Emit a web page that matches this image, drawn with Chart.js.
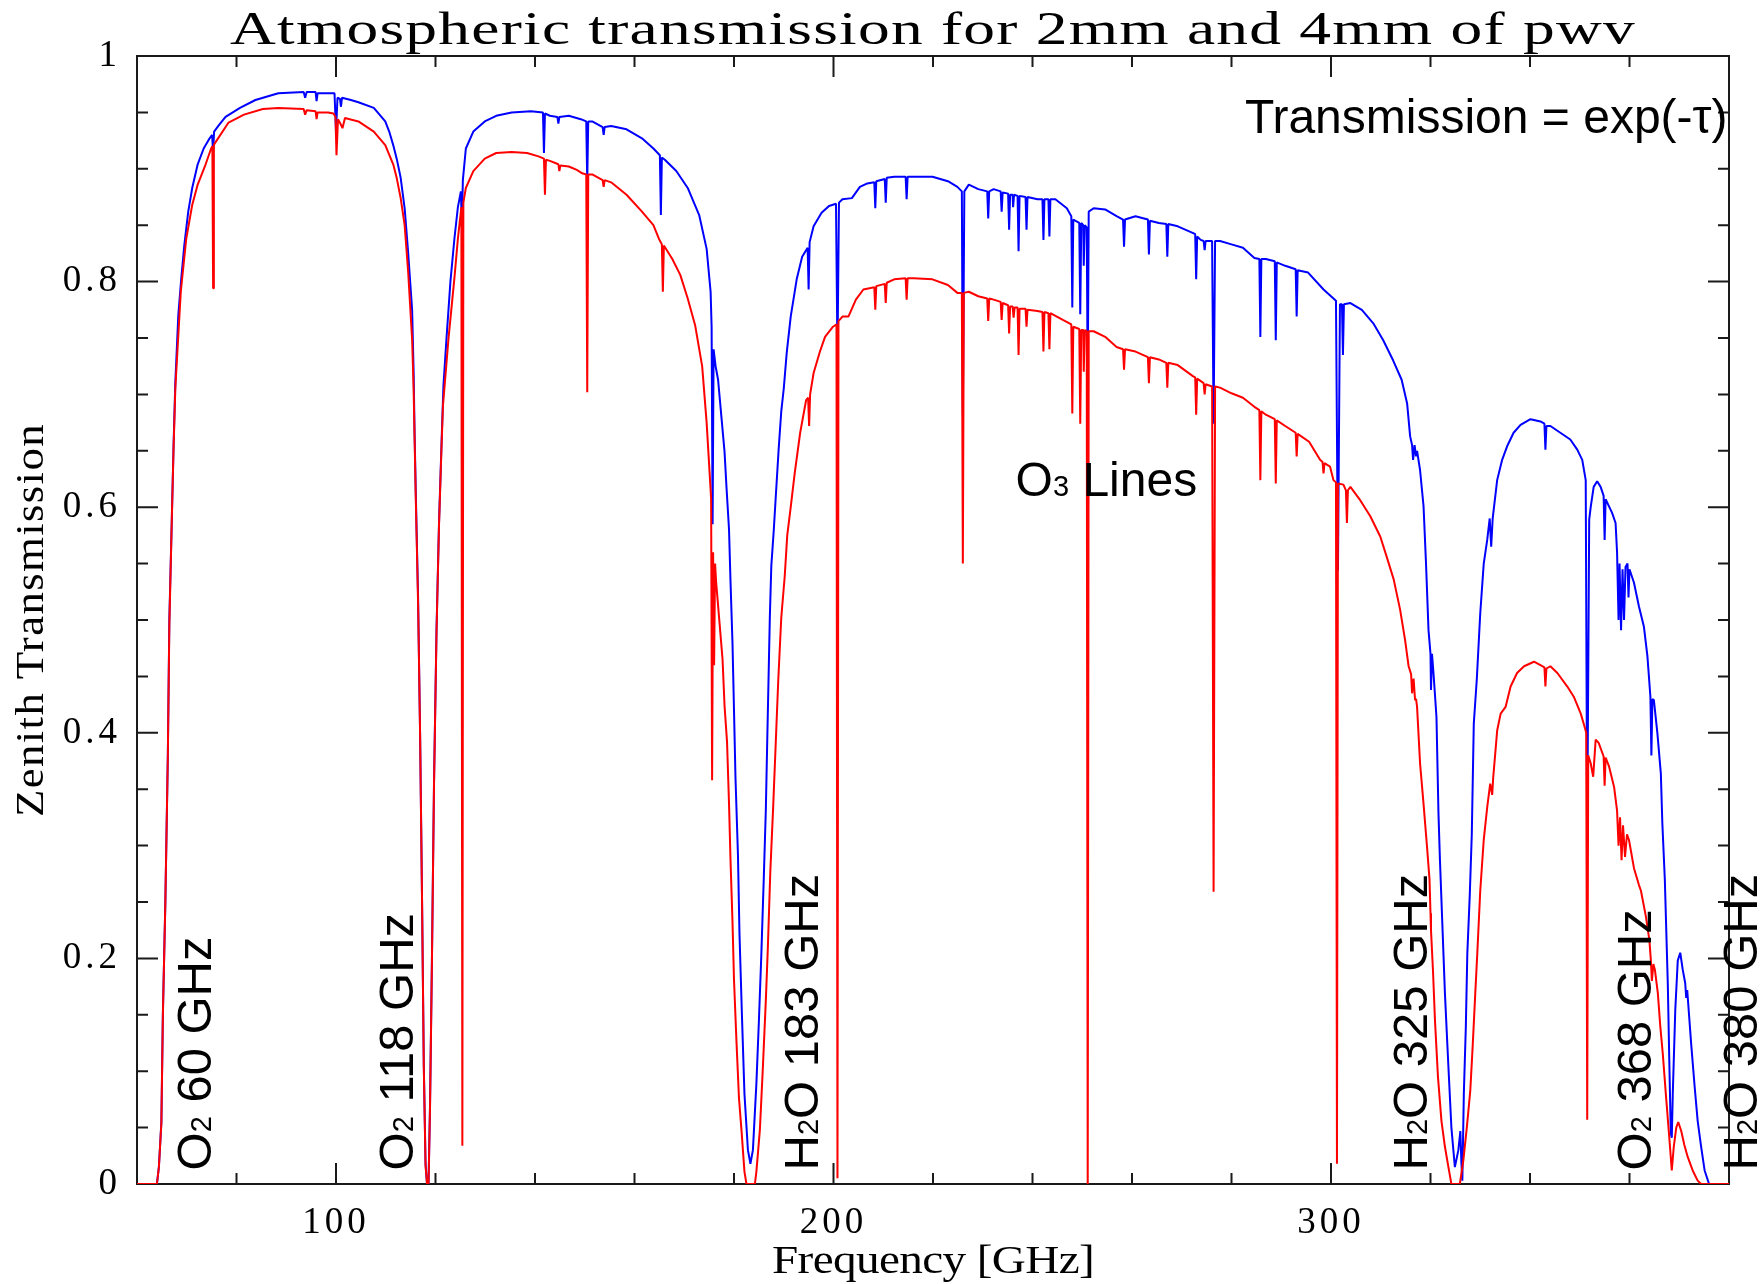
<!DOCTYPE html>
<html>
<head>
<meta charset="utf-8">
<title>Atmospheric transmission</title>
<script src="https://cdn.jsdelivr.net/npm/chart.js@4.4.1/dist/chart.umd.min.js"></script>
<style>
  html, body { margin: 0; padding: 0; background: #fff; }
  #wrap { width: 1764px; height: 1284px; }
</style>
</head>
<body>
<div id="wrap"><canvas id="atmChart" width="1764" height="1284"></canvas></div>
<script>
// Zenith transmission for 2 mm of precipitable water vapour (blue)
const freq2mm = [
  60.0, 64.0, 64.4, 64.9, 65.2, 65.7, 66.2, 66.5, 67.0, 67.35,
  67.7, 68.3, 68.9, 69.5, 70.3, 71.1, 72.2, 73.4, 74.6, 75.1,
  75.3, 75.5, 76.5, 77.8, 80.7, 83.8, 88.4, 93.5, 93.8, 94.1,
  95.9, 96.1, 96.3, 99.7, 100.0, 100.3, 100.8, 101.0, 101.2, 103.0,
  104.5, 107.6, 109.9, 110.7, 111.5, 112.2, 113.0, 113.8, 114.5, 115.3,
  115.6, 115.8, 116.05, 116.5, 116.9, 117.3, 117.65, 118.0, 118.3, 118.6,
  118.9, 119.3, 119.7, 120.2, 120.7, 121.2, 121.6, 122.2, 123.0, 123.8,
  124.5, 125.1, 125.3, 125.5, 126.1, 127.6, 129.9, 132.2, 135.3, 139.2,
  141.6, 141.8, 142.0, 143.0, 144.5, 144.7, 144.9, 146.8, 149.2, 150.3,
  150.5, 150.7, 151.5, 153.6, 153.8, 154.0, 155.3, 158.4, 161.5, 163.8,
  165.1, 165.3, 165.5, 166.1, 168.4, 170.7, 173.0, 174.5, 175.3, 175.5,
  175.7, 175.9, 176.3, 176.8, 177.45, 178.1, 178.5, 179.0, 179.3, 179.7,
  180.0, 180.3, 180.8, 181.1, 181.6, 182.1, 182.8, 183.3, 183.8, 184.5,
  185.0, 185.5, 186.0, 186.4, 186.7, 187.2, 187.5, 188.0, 188.5, 189.0,
  189.5, 190.0, 190.6, 191.4, 192.6, 193.7, 194.8, 195.0, 195.2, 196.0,
  197.6, 199.1, 200.5, 200.8, 201.1, 201.8, 203.7, 205.3, 206.8, 208.2,
  208.4, 208.6, 210.3, 210.5, 210.7, 212.2, 214.5, 214.7, 214.9, 219.9,
  223.0, 224.9, 225.8, 226.0, 226.3, 227.2, 229.1, 230.9, 231.1, 231.3,
  232.2, 233.6, 233.8, 234.0, 235.1, 235.3, 235.5, 236.0, 236.1, 236.3,
  237.0, 237.2, 237.4, 238.6, 238.8, 239.0, 241.0, 242.0, 242.2, 242.4,
  243.2, 243.4, 243.6, 244.6, 246.9, 247.8, 248.0, 248.2, 249.4, 249.6,
  249.8, 250.2, 250.3, 250.5, 250.9, 251.1, 251.3, 252.3, 254.6, 256.9,
  258.2, 258.4, 258.6, 260.7, 263.2, 263.4, 263.6, 265.4, 266.9, 267.1,
  267.3, 269.2, 272.3, 272.7, 272.9, 273.1, 273.8, 274.4, 274.6, 274.8,
  276.1, 276.4, 276.7, 277.7, 280.0, 282.3, 284.6, 285.6, 285.8, 286.0,
  286.9, 288.7, 288.9, 289.1, 290.8, 292.9, 293.1, 293.3, 295.4, 298.5,
  300.0, 301.0, 301.4, 301.8, 302.2, 302.4, 302.6, 303.9, 306.2, 308.5,
  310.5, 312.5, 314.2, 315.3, 315.9, 316.3, 316.5, 316.8, 317.1, 317.3,
  317.9, 318.6, 319.1, 319.6, 320.0, 320.1, 320.3, 320.6, 321.2, 321.6,
  321.9, 322.4, 322.9, 323.6, 324.2, 324.9, 325.6, 326.0, 326.2, 326.4,
  326.7, 327.1, 327.4, 327.9, 328.3, 328.7, 329.3, 330.0, 330.7, 331.4,
  331.9, 332.2, 332.5, 333.4, 334.4, 335.4, 336.7, 338.1, 340.1, 342.1,
  342.9, 343.1, 343.3, 344.1, 346.1, 348.1, 349.5, 350.5, 351.2, 351.5,
  351.9, 352.2, 352.8, 353.5, 354.2, 354.8, 355.0, 355.2, 356.5, 357.2,
  357.5, 357.8, 358.0, 358.3, 358.6, 358.9, 359.2, 359.6, 359.8, 360.0,
  360.9, 361.9, 362.9, 363.6, 364.2, 364.4, 364.6, 364.9, 365.6, 366.3,
  366.6, 367.1, 367.7, 368.0, 368.3, 368.5, 368.7, 369.2, 369.7, 370.2,
  370.7, 371.2, 371.4, 371.6, 372.4, 373.1, 373.7, 374.4, 375.1, 376.0,
  380.0
];
const trans2mm = [
  0, 0, 0.015, 0.055, 0.15, 0.25, 0.38, 0.50, 0.59, 0.655,
  0.71, 0.77, 0.803, 0.832, 0.862, 0.883, 0.904, 0.918, 0.927, 0.930,
  0.915, 0.933, 0.939, 0.946, 0.954, 0.961, 0.967, 0.968, 0.963, 0.968,
  0.968, 0.960, 0.967, 0.967, 0.933, 0.963, 0.962, 0.955, 0.963, 0.961,
  0.959, 0.954, 0.942, 0.933, 0.921, 0.909, 0.892, 0.865, 0.826, 0.775,
  0.72, 0.665, 0.61, 0.52, 0.40, 0.25, 0.105, 0.018, 0, 0,
  0.07, 0.205, 0.355, 0.49, 0.585, 0.655, 0.708, 0.749, 0.80, 0.838,
  0.866, 0.88, 0.85, 0.89, 0.918, 0.933, 0.942, 0.947, 0.95, 0.951,
  0.950, 0.914, 0.949, 0.947, 0.946, 0.940, 0.946, 0.947, 0.944, 0.942,
  0.889, 0.942, 0.942, 0.937, 0.930, 0.937, 0.938, 0.935, 0.927, 0.918,
  0.912, 0.859, 0.910, 0.908, 0.898, 0.883, 0.859, 0.829, 0.791, 0.76,
  0.585, 0.74, 0.725, 0.713, 0.681, 0.649, 0.617, 0.58, 0.534, 0.479,
  0.42, 0.36, 0.291, 0.222, 0.149, 0.08, 0.03, 0.018, 0.03, 0.089,
  0.144, 0.204, 0.273, 0.332, 0.397, 0.502, 0.548, 0.58, 0.617, 0.653,
  0.685, 0.705, 0.737, 0.769, 0.802, 0.822, 0.830, 0.793, 0.835, 0.849,
  0.861, 0.867, 0.869, 0.735, 0.870, 0.873, 0.874, 0.884, 0.887, 0.888,
  0.865, 0.889, 0.891, 0.870, 0.892, 0.893, 0.893, 0.873, 0.893, 0.893,
  0.889, 0.884, 0.880, 0.682, 0.880, 0.886, 0.882, 0.880, 0.856, 0.880,
  0.882, 0.880, 0.862, 0.879, 0.878, 0.846, 0.877, 0.877, 0.866, 0.877,
  0.876, 0.827, 0.876, 0.875, 0.846, 0.875, 0.873, 0.873, 0.837, 0.873,
  0.873, 0.840, 0.873, 0.873, 0.865, 0.858, 0.777, 0.855, 0.852, 0.771,
  0.852, 0.850, 0.814, 0.850, 0.848, 0.709, 0.862, 0.865, 0.864, 0.858,
  0.855, 0.831, 0.855, 0.858, 0.855, 0.824, 0.854, 0.852, 0.851, 0.822,
  0.851, 0.849, 0.843, 0.842, 0.802, 0.840, 0.837, 0.836, 0.828, 0.836,
  0.836, 0.674, 0.836, 0.836, 0.833, 0.830, 0.821, 0.820, 0.751, 0.820,
  0.820, 0.818, 0.748, 0.817, 0.814, 0.811, 0.769, 0.810, 0.808, 0.793,
  0.787, 0.783, 0.544, 0.780, 0.780, 0.735, 0.780, 0.781, 0.775, 0.763,
  0.748, 0.73, 0.713, 0.692, 0.663, 0.655, 0.642, 0.655, 0.645, 0.650,
  0.633, 0.601, 0.55, 0.491, 0.470, 0.438, 0.47, 0.453, 0.414, 0.329,
  0.287, 0.228, 0.169, 0.104, 0.05, 0.015, 0.03, 0.047, 0.02, 0.003,
  0.08, 0.139, 0.204, 0.257, 0.31, 0.408, 0.447, 0.506, 0.55, 0.571,
  0.59, 0.565, 0.59, 0.624, 0.642, 0.654, 0.666, 0.673, 0.678, 0.676,
  0.674, 0.651, 0.672, 0.672, 0.666, 0.66, 0.651, 0.642, 0.624, 0.308,
  0.589, 0.60, 0.618, 0.623, 0.618, 0.610, 0.571, 0.607, 0.595, 0.586,
  0.56, 0.50, 0.55, 0.491, 0.545, 0.50, 0.547, 0.55, 0.52, 0.545,
  0.533, 0.512, 0.494, 0.468, 0.432, 0.38, 0.43, 0.429, 0.40, 0.364,
  0.32, 0.27, 0.177, 0.109, 0.045, 0.041, 0.08, 0.154, 0.198, 0.205,
  0.19, 0.178, 0.165, 0.172, 0.124, 0.086, 0.056, 0.033, 0.012, 0,
  0
];

// Zenith transmission for 4 mm of precipitable water vapour (red)
const freq4mm = [
  60.0, 64.0, 64.4, 64.9, 65.2, 65.7, 66.2, 66.5, 67.0, 67.35,
  67.7, 68.8, 69.9, 71.1, 72.2, 73.8, 74.9, 75.15, 75.3, 75.45,
  75.7, 78.4, 81.5, 85.3, 88.4, 93.5, 93.8, 94.1, 95.9, 96.1,
  96.3, 98.4, 99.5, 99.9, 100.1, 100.4, 101.0, 101.3, 101.8, 104.5,
  107.6, 109.9, 111.5, 112.2, 113.0, 113.8, 114.5, 115.3, 115.6, 115.8,
  116.05, 116.5, 116.9, 117.3, 117.65, 118.0, 118.3, 118.6, 118.9, 119.3,
  119.7, 120.2, 120.7, 121.2, 121.5, 122.6, 123.8, 124.5, 125.2, 125.4,
  125.6, 126.1, 127.6, 129.9, 132.2, 135.3, 138.4, 140.7, 141.8, 142.0,
  142.2, 143.0, 144.7, 144.9, 145.1, 146.8, 148.4, 149.5, 150.3, 150.5,
  150.7, 151.5, 153.6, 153.8, 154.0, 155.3, 158.4, 161.5, 163.8, 164.9,
  165.5, 165.7, 165.9, 167.6, 169.2, 170.7, 172.2, 173.6, 174.5, 175.4,
  175.6, 175.8, 176.0, 176.2, 176.4, 177.1, 177.7, 178.1, 178.6, 179.0,
  179.3, 179.7, 180.0, 180.5, 181.0, 181.5, 182.1, 182.5, 184.2, 184.5,
  185.2, 185.8, 186.4, 186.8, 187.3, 187.9, 188.4, 188.9, 189.5, 190.2,
  190.7, 191.4, 192.2, 193.3, 194.5, 194.9, 195.1, 195.3, 196.0, 197.2,
  198.3, 199.9, 200.6, 200.8, 201.0, 201.8, 203.0, 204.5, 206.0, 208.2,
  208.4, 208.6, 210.3, 210.5, 210.7, 212.2, 214.5, 214.7, 214.9, 216.1,
  219.9, 223.0, 224.9, 225.8, 226.0, 226.2, 227.2, 229.1, 230.9, 231.1,
  231.3, 232.2, 233.6, 233.8, 234.0, 235.1, 235.3, 235.5, 236.0, 236.2,
  236.4, 237.0, 237.2, 237.4, 238.6, 238.8, 239.0, 241.0, 242.0, 242.2,
  242.4, 243.2, 243.4, 243.6, 246.1, 247.8, 248.0, 248.2, 249.4, 249.6,
  249.8, 250.2, 250.3, 250.5, 250.9, 251.1, 251.3, 252.3, 254.6, 256.9,
  258.2, 258.4, 258.6, 260.7, 263.2, 263.4, 263.6, 265.4, 266.9, 267.1,
  267.3, 269.2, 272.3, 272.7, 272.9, 273.1, 274.4, 274.6, 274.8, 276.1,
  276.4, 276.7, 277.7, 280.0, 282.3, 284.6, 285.6, 285.8, 286.0, 286.9,
  288.7, 288.9, 289.1, 290.8, 292.9, 293.1, 293.3, 295.6, 297.8, 298.3,
  298.5, 298.7, 299.8, 300.5, 301.0, 301.2, 301.4, 302.5, 303.0, 303.2,
  303.4, 303.9, 305.9, 307.9, 309.9, 311.2, 312.6, 313.9, 314.9, 315.6,
  316.1, 316.3, 316.6, 316.9, 317.1, 317.3, 317.9, 318.6, 319.3, 319.8,
  320.0, 320.1, 320.5, 320.9, 321.5, 322.2, 322.9, 323.6, 324.2, 325.9,
  326.6, 327.3, 328.0, 328.5, 329.0, 329.4, 330.0, 330.7, 331.4, 332.0,
  332.4, 332.6, 333.4, 334.1, 335.1, 336.1, 337.4, 338.8, 340.8, 342.1,
  342.9, 343.1, 343.3, 344.1, 345.5, 347.5, 348.8, 350.2, 351.0, 351.3,
  351.5, 351.7, 352.2, 352.7, 353.2, 353.8, 354.8, 355.0, 355.2, 355.9,
  356.9, 357.5, 357.8, 358.1, 358.4, 358.7, 359.1, 359.5, 359.9, 360.9,
  361.9, 362.3, 363.3, 364.0, 364.3, 364.5, 364.8, 365.1, 365.7, 366.2,
  366.7, 367.3, 368.0, 368.5, 368.9, 369.4, 369.8, 370.4, 371.0, 371.7,
  372.7, 373.7, 374.4, 380.0
];
const trans4mm = [
  0, 0, 0.015, 0.054, 0.149, 0.25, 0.38, 0.495, 0.59, 0.652,
  0.705, 0.791, 0.838, 0.868, 0.886, 0.904, 0.918, 0.92, 0.794, 0.921,
  0.923, 0.941, 0.948, 0.953, 0.954, 0.953, 0.948, 0.952, 0.951, 0.944,
  0.950, 0.950, 0.949, 0.946, 0.912, 0.944, 0.939, 0.936, 0.945, 0.942,
  0.933, 0.921, 0.904, 0.892, 0.874, 0.85, 0.809, 0.749, 0.705, 0.66,
  0.605, 0.515, 0.40, 0.25, 0.103, 0.016, 0, 0, 0.068, 0.203,
  0.353, 0.488, 0.583, 0.652, 0.69, 0.749, 0.803, 0.838, 0.866, 0.034,
  0.87, 0.883, 0.898, 0.909, 0.914, 0.915, 0.914, 0.911, 0.909, 0.877,
  0.908, 0.907, 0.904, 0.898, 0.903, 0.902, 0.899, 0.896, 0.895, 0.702,
  0.895, 0.895, 0.890, 0.884, 0.890, 0.888, 0.877, 0.862, 0.85, 0.838,
  0.833, 0.791, 0.832, 0.82, 0.806, 0.785, 0.761, 0.725, 0.675, 0.608,
  0.358, 0.56, 0.46, 0.55, 0.534, 0.497, 0.465, 0.424, 0.392, 0.337,
  0.287, 0.232, 0.181, 0.126, 0.076, 0.048, 0.011, 0, 0, 0.011,
  0.048, 0.103, 0.163, 0.209, 0.277, 0.337, 0.392, 0.447, 0.502, 0.539,
  0.575, 0.60, 0.63, 0.666, 0.695, 0.697, 0.672, 0.70, 0.719, 0.737,
  0.751, 0.76, 0.762, 0.005, 0.765, 0.769, 0.769, 0.784, 0.793, 0.795,
  0.775, 0.796, 0.798, 0.781, 0.799, 0.802, 0.803, 0.784, 0.803, 0.803,
  0.802, 0.797, 0.79, 0.79, 0.55, 0.79, 0.791, 0.787, 0.785, 0.765,
  0.785, 0.784, 0.782, 0.766, 0.781, 0.779, 0.754, 0.778, 0.778, 0.768,
  0.777, 0.777, 0.735, 0.776, 0.776, 0.76, 0.775, 0.774, 0.773, 0.738,
  0.773, 0.772, 0.740, 0.772, 0.766, 0.762, 0.683, 0.760, 0.758, 0.674,
  0.757, 0.757, 0.72, 0.757, 0.756, 0, 0.756, 0.756, 0.751, 0.742,
  0.74, 0.722, 0.74, 0.738, 0.733, 0.71, 0.733, 0.731, 0.728, 0.706,
  0.728, 0.726, 0.716, 0.715, 0.682, 0.714, 0.710, 0.70, 0.709, 0.707,
  0.259, 0.707, 0.706, 0.701, 0.697, 0.689, 0.686, 0.624, 0.685, 0.682,
  0.678, 0.621, 0.677, 0.672, 0.666, 0.645, 0.665, 0.658, 0.642, 0.64,
  0.63, 0.639, 0.636, 0.624, 0.622, 0.018, 0.621, 0.62, 0.615, 0.586,
  0.615, 0.618, 0.606, 0.592, 0.574, 0.556, 0.536, 0.509, 0.482, 0.459,
  0.452, 0.435, 0.448, 0.429, 0.43, 0.423, 0.373, 0.337, 0.299, 0.27,
  0.240, 0.225, 0.189, 0.145, 0.095, 0.056, 0.033, 0.015, 0, 0,
  0.021, 0.05, 0.083, 0.124, 0.169, 0.204, 0.26, 0.305, 0.334, 0.355,
  0.345, 0.36, 0.402, 0.417, 0.423, 0.441, 0.453, 0.459, 0.463, 0.46,
  0.458, 0.441, 0.457, 0.459, 0.453, 0.441, 0.432, 0.417, 0.405, 0.40,
  0.057, 0.38, 0.373, 0.361, 0.394, 0.391, 0.379, 0.353, 0.378, 0.37,
  0.352, 0.331, 0.30, 0.325, 0.287, 0.318, 0.29, 0.31, 0.305, 0.28,
  0.265, 0.26, 0.237, 0.216, 0.198, 0.18, 0.195, 0.19, 0.169, 0.139,
  0.115, 0.08, 0.041, 0.012, 0.033, 0.05, 0.055, 0.047, 0.035, 0.024,
  0.012, 0.003, 0, 0
];

// Axis ticks
const xMajorTicks = [100, 200, 300];
const xMinorTicks = [80, 120, 140, 160, 180, 220, 240, 260, 280, 320, 340, 360];
const yMajorTicks = [0, 0.2, 0.4, 0.6, 0.8, 1];
const yTickLabels = ['0', '0.2', '0.4', '0.6', '0.8', '1'];
const yMinorTicks = [0.05, 0.1, 0.15, 0.25, 0.3, 0.35, 0.45, 0.5, 0.55, 0.65, 0.7, 0.75, 0.85, 0.9, 0.95];

// Absorption line labels (rotated) and where their baselines sit on the frequency axis
const lineLabels = ['O₂ 60 GHz', 'O₂ 118 GHz', 'H₂O 183 GHz', 'H₂O 325 GHz', 'O₂ 368 GHz', 'H₂O 380 GHz'];
const lineLabelGHz = [74.9, 115.4, 196.9, 319.3, 364.3, 385.7];

const SERIF = '"Liberation Serif", "Times New Roman", serif';
const SANS = '"Liberation Sans", Arial, sans-serif';
const SUBSCRIPTS = '₀₁₂₃₄₅₆₇₈₉';

const toPoints = (xs, ys) => xs.map((x, i) => ({ x, y: ys[i] }));

// Plain text stretched to a given width (the plot's fonts run wide)
function fitText(ctx, text, font, cx, baseY, width, stretch, angle) {
    ctx.save();
    ctx.font = font;
    ctx.letterSpacing = '0px';
    const natural = ctx.measureText(text).width;
    const spacing = (width / stretch - natural) / text.length;
    ctx.translate(cx, baseY);
    if (angle) ctx.rotate(angle);
    ctx.scale(stretch, 1);
    ctx.letterSpacing = spacing.toFixed(2) + 'px';
    ctx.textAlign = 'left';
    ctx.textBaseline = 'alphabetic';
    ctx.fillStyle = '#000';
    ctx.fillText(text, -width / stretch / 2, 0);
    ctx.restore();
}

// Sans label where subscript digits are drawn as small figures on the baseline
function drawChem(ctx, text, x, y, size, align, angle) {
    const runs = [];
    for (const ch of text) {
        const idx = SUBSCRIPTS.indexOf(ch);
        const sub = idx >= 0;
        const c = sub ? String(idx) : ch;
        const last = runs[runs.length - 1];
        if (last && last.sub === sub) last.t += c;
        else runs.push({ t: c, sub });
    }
    ctx.save();
    ctx.translate(x, y);
    if (angle) ctx.rotate(angle);
    ctx.letterSpacing = '0px';
    ctx.textAlign = 'left';
    ctx.textBaseline = 'alphabetic';
    ctx.fillStyle = '#000';
    const fontOf = r => (r.sub ? Math.round(size * 0.6) : size) + 'px ' + SANS;
    let total = 0;
    runs.forEach(r => { ctx.font = fontOf(r); r.w = ctx.measureText(r.t).width; total += r.w; });
    let pos = align === 'right' ? -total : 0;
    runs.forEach(r => { ctx.font = fontOf(r); ctx.fillText(r.t, pos, 0); pos += r.w; });
    ctx.restore();
}

const frameAndText = {
    id: 'frameAndText',
    beforeDraw(chart) {
        // wide tick digits
        chart.ctx.letterSpacing = '4px';
    },
    beforeDatasetsDraw(chart) {
        const { ctx, chartArea: a, scales: { x, y } } = chart;
        ctx.save();
        ctx.letterSpacing = '0px';
        ctx.strokeStyle = '#1a1a1a';
        ctx.lineWidth = 2;
        ctx.strokeRect(a.left, a.top, a.right - a.left, a.bottom - a.top);

        // inward ticks on all four sides
        ctx.beginPath();
        const tickX = (v, len) => {
            const px = x.getPixelForValue(v);
            ctx.moveTo(px, a.bottom); ctx.lineTo(px, a.bottom - len);
            ctx.moveTo(px, a.top); ctx.lineTo(px, a.top + len);
        };
        const tickY = (v, len) => {
            const py = y.getPixelForValue(v);
            ctx.moveTo(a.left, py); ctx.lineTo(a.left + len, py);
            ctx.moveTo(a.right, py); ctx.lineTo(a.right - len, py);
        };
        xMajorTicks.forEach(v => tickX(v, 21));
        xMinorTicks.forEach(v => tickX(v, 11));
        yMajorTicks.forEach(v => tickY(v, 21));
        yMinorTicks.forEach(v => tickY(v, 11));
        ctx.stroke();
        ctx.restore();
        ctx.letterSpacing = '0px';
    },
    afterDraw(chart) {
        const { ctx, chartArea: a, scales: { x, y } } = chart;
        const midX = (a.left + a.right) / 2;
        const midY = (a.top + a.bottom) / 2;

        fitText(ctx, 'Atmospheric transmission for 2mm and 4mm of pwv',
            '47px ' + SERIF, midX, 44, 1406, 1.35);
        fitText(ctx, 'Frequency [GHz]', '41px ' + SERIF, midX, 1273, 322, 1.15);
        fitText(ctx, 'Zenith Transmission', '39px ' + SERIF, 43, midY, 394, 1.15, -Math.PI / 2);

        lineLabels.forEach((t, i) => {
            drawChem(ctx, t, x.getPixelForValue(lineLabelGHz[i]), y.getPixelForValue(0.012),
                49, 'left', -Math.PI / 2);
        });
        drawChem(ctx, 'O₃ Lines', x.getPixelForValue(236.6), y.getPixelForValue(0.610), 48, 'left');
        drawChem(ctx, 'Transmission = exp(-τ)', x.getPixelForValue(379.7), y.getPixelForValue(0.932), 48, 'right');
    }
};

const ctx = document.getElementById('atmChart').getContext('2d');
new Chart(ctx, {
    type: 'line',
    data: {
        datasets: [
            {
                label: '4 mm pwv',
                data: toPoints(freq4mm, trans4mm),
                borderColor: '#ff0000',
                borderWidth: 2,
                borderJoinStyle: 'bevel',
                pointRadius: 0,
                tension: 0,
            },
            {
                label: '2 mm pwv',
                data: toPoints(freq2mm, trans2mm),
                borderColor: '#0000ff',
                borderWidth: 2,
                borderJoinStyle: 'bevel',
                pointRadius: 0,
                tension: 0,
            }
        ]
    },
    options: {
        responsive: false,
        animation: false,
        devicePixelRatio: 1,
        layout: { padding: { left: 0, right: 35, top: 56, bottom: 0 } },
        plugins: {
            legend: { display: false },
            tooltip: { enabled: false },
            title: { display: false }
        },
        scales: {
            x: {
                type: 'linear',
                min: 60,
                max: 380,
                afterBuildTicks: s => { s.ticks = xMajorTicks.map(v => ({ value: v })); },
                afterFit: s => { s.height = 100; },
                grid: { display: false, drawTicks: false },
                border: { display: false },
                ticks: {
                    color: '#000',
                    padding: 17,
                    maxRotation: 0,
                    font: { family: SERIF, size: 37 }
                }
            },
            y: {
                type: 'linear',
                min: 0,
                max: 1,
                afterBuildTicks: s => { s.ticks = yMajorTicks.map(v => ({ value: v })); },
                afterFit: s => { s.width = 137; },
                grid: { display: false, drawTicks: false },
                border: { display: false },
                ticks: {
                    color: '#000',
                    padding: 16,
                    font: { family: SERIF, size: 37 },
                    callback: (v, i) => yTickLabels[i]
                }
            }
        }
    },
    plugins: [frameAndText]
});
</script>
</body>
</html>
